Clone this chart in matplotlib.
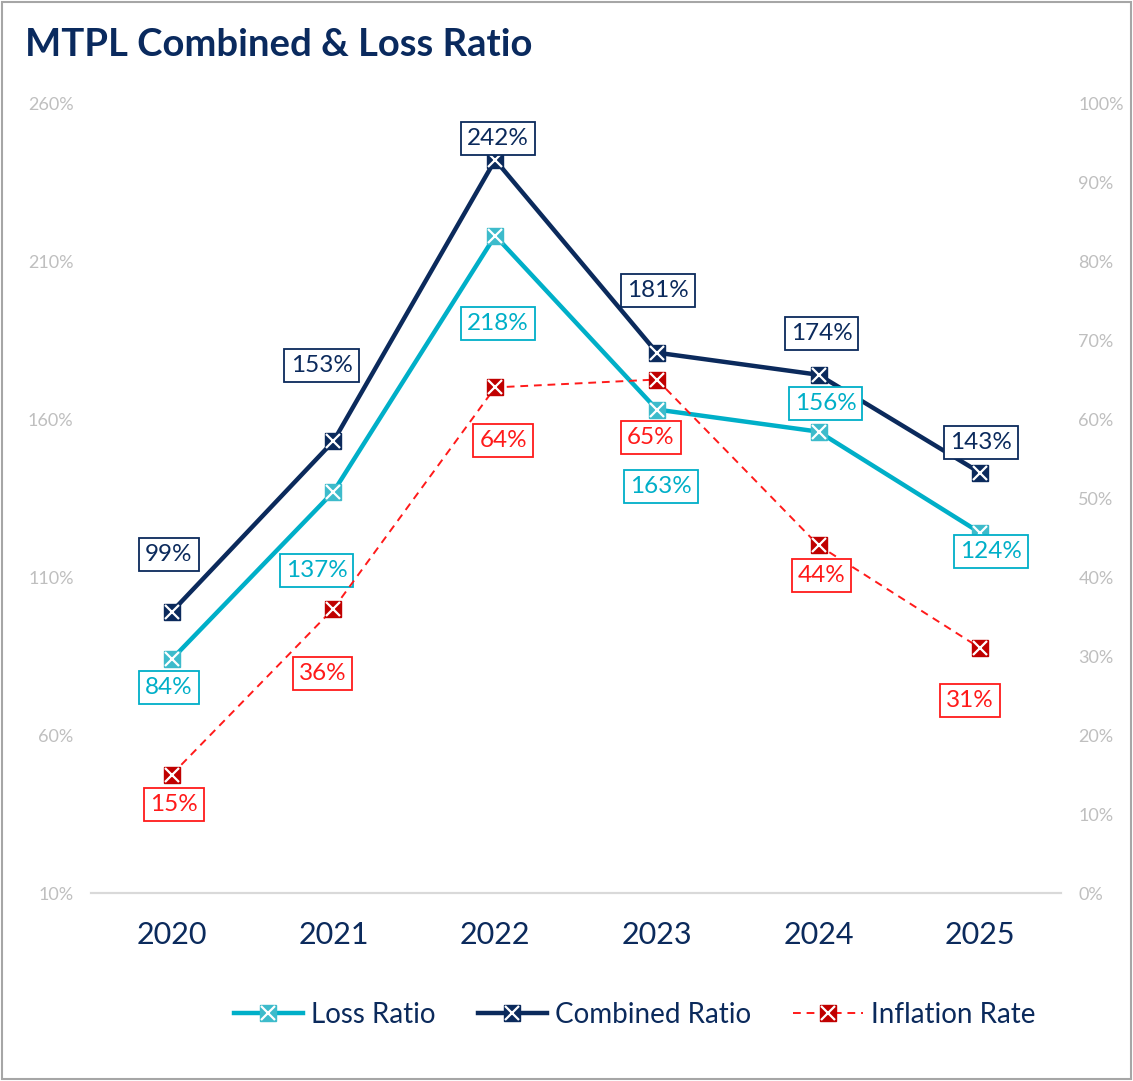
import matplotlib.pyplot as plt
from matplotlib.patches import Rectangle

plt.rcParams['font.family'] = ['Lato', 'DejaVu Sans']

years = ['2020', '2021', '2022', '2023', '2024', '2025']
loss_ratio = [84, 137, 218, 163, 156, 124]
combined_ratio = [99, 153, 242, 181, 174, 143]
inflation_rate = [15, 36, 64, 65, 44, 31]

navy = '#0B2A5C'
teal = '#00AFC8'
teal_mk = '#3DBBCB'
red = '#FF1A1A'
red_mk = '#C00000'
grey = '#BFBFBF'

# label offsets in pixels (dx, dy), y up
off_comb = [(-3, 57), (-12, 76), (3, 21), (1, 62), (3, 41), (1, 30)]
off_loss = [(-3, -28), (-17, -79), (3, -88), (4, -77), (7, 28), (11, -19)]
off_infl = [(2, -30), (-11, -65), (8, -53), (-6, -58), (3, -30), (-10, -52)]

fig = plt.figure(figsize=(11.33, 10.81), dpi=100)
ax = fig.add_axes([0.0803, 0.1739, 0.8562, 0.7308])
ax2 = ax.twinx()

x = list(range(len(years)))


def series(a, vals, color, mk, lw, ls):
    ln, = a.plot(x, vals, color=color, lw=lw, ls=ls, marker='s', ms=12,
                 mfc=mk, mec=mk, zorder=3)
    xs, = a.plot(x, vals, ls='none', marker='x', ms=10, mew=1.6,
                 color='white', zorder=4)
    return ln, xs


h_loss = series(ax, loss_ratio, teal, teal_mk, 3.2, '-')
h_comb = series(ax, combined_ratio, navy, navy, 3.2, '-')
h_infl = series(ax2, inflation_rate, red, red_mk, 1.4, (0, (4, 3)))


def labels(a, vals, offs, color):
    for i, v in enumerate(vals):
        a.annotate(f'{v}%', (i, v), xytext=(offs[i][0] * 0.72, offs[i][1] * 0.72),
                   textcoords='offset points', ha='center', va='center',
                   fontsize=17.5, color=color, zorder=6,
                   bbox=dict(boxstyle='square,pad=0.25', fc='white', ec=color, lw=1.3))


labels(ax, combined_ratio, off_comb, navy)
labels(ax, loss_ratio, off_loss, teal)
labels(ax2, inflation_rate, off_infl, red)

ax.set_xlim(-0.5, 5.5)
ax.set_ylim(10, 260)
ax.set_yticks(range(10, 261, 50))
ax.set_yticklabels([f'{t}%' for t in range(10, 261, 50)])
ax2.set_ylim(0, 100)
ax2.set_yticks(range(0, 101, 10))
ax2.set_yticklabels([f'{t}%' for t in range(0, 101, 10)])
ax.set_xticks(x)
ax.set_xticklabels(years)

for a in (ax, ax2):
    for s in ('left', 'right', 'top'):
        a.spines[s].set_visible(False)
    a.spines['bottom'].set_color('#D9D9D9')
    a.spines['bottom'].set_linewidth(1.5)
    a.tick_params(axis='y', length=0, labelsize=13, labelcolor=grey, pad=12.5)
ax.tick_params(axis='x', length=0, labelsize=22, labelcolor=navy, pad=20)

fig.text(0.022, 0.958, 'MTPL Combined & Loss Ratio', fontsize=27.5, fontweight='bold',
         color='#0A2A5E', ha='left', va='center')

leg = fig.legend([h_loss, h_comb, h_infl], ['Loss Ratio', 'Combined Ratio', 'Inflation Rate'],
                 loc='center', bbox_to_anchor=(0.56, 0.061), ncol=3, frameon=False,
                 fontsize=20, handlelength=2.5, handletextpad=0.3, columnspacing=1.5)
for t in leg.get_texts():
    t.set_color(navy)

fig.patches.append(Rectangle((0.002, 0.002), 0.996, 0.996, transform=fig.transFigure,
                             fill=False, ec='#A6A6A6', lw=1.5))

fig.savefig('out.png', dpi=100)
